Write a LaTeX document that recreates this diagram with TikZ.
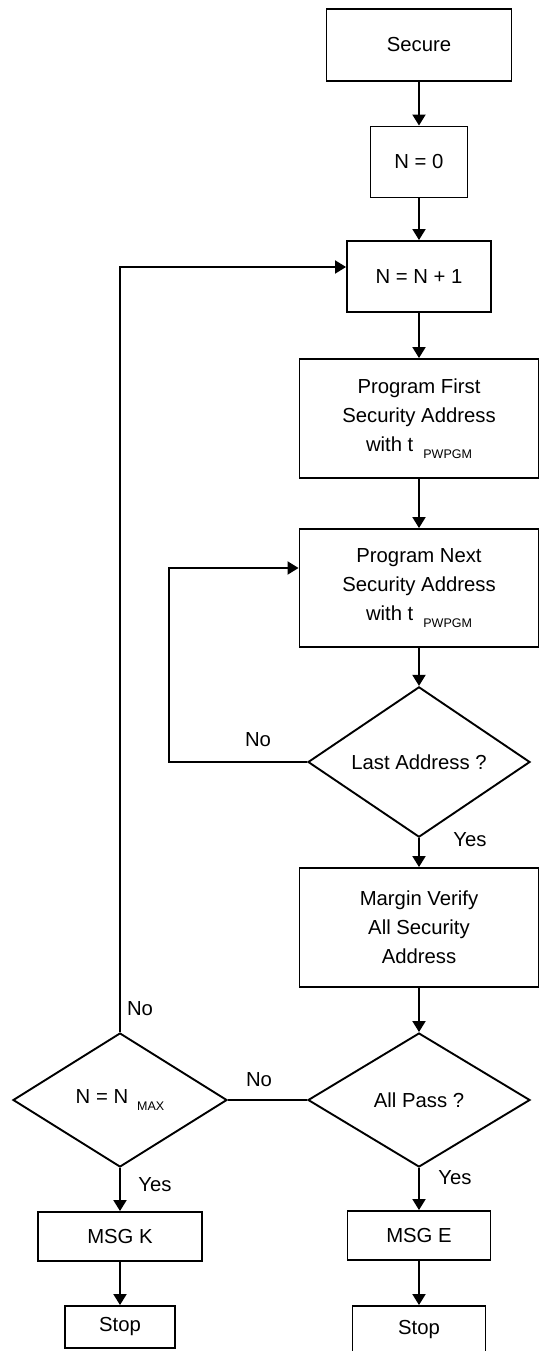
\documentclass[tikz,border=0pt]{standalone}
\usepackage{fontspec}
\setmainfont{Liberation Sans}
\usetikzlibrary{shapes.geometric,arrows.meta}

\newcommand{\lowtag}[1]{\raisebox{-7pt}{\fontsize{12.5}{12}\selectfont #1}}

\begin{document}
\begin{tikzpicture}
  [x=1pt,y=-1pt,line width=1.9pt,
   every node/.style={font=\fontsize{20.3}{29}\selectfont,align=center,inner sep=0pt},
   box/.style={draw,rectangle,line width=1.9pt},
   decide/.style={draw,diamond,line width=1.9pt,minimum width=222pt,minimum height=134pt},
   flow/.style={-{Triangle[width=13pt,length=11pt]}}]
\useasboundingbox (0,0) rectangle (555,1351);

\node [box,minimum width=185pt,minimum height=72pt]  (sec)    at (419,45)    {Secure};
\node [box,minimum width=97pt,minimum height=71pt]   (zero)   at (419,162)   {N = 0};
\node [box,minimum width=144pt,minimum height=71pt]  (inc)    at (419,276.5) {N = N + 1};
\node [box,minimum width=239pt,minimum height=119pt] (first)  at (419,418.5)
  {Program First\\Security Address\\with t\hspace{10pt}\lowtag{PWPGM}};
\node [box,minimum width=239pt,minimum height=118pt] (next)   at (419,588)
  {Program Next\\Security Address\\with t\hspace{10pt}\lowtag{PWPGM}};
\node [decide] (last)   at (419,762)  {Last Address ?};
\node [box,minimum width=239pt,minimum height=119pt] (verify) at (419,927.5)
  {Margin Verify\\All Security\\Address};
\node [decide] (pass)   at (419,1100) {All Pass ?};
\node [decide,minimum width=214pt] (nmax) at (120,1100) {N = N\hspace{9pt}\lowtag{MAX}};
\node [box,minimum width=164pt,minimum height=49pt]  (msgk)   at (120,1236.5) {MSG K};
\node [box,minimum width=110pt,minimum height=42pt]  (stopk)  at (120,1327)   {Stop};
\node [box,minimum width=143pt,minimum height=49pt]  (msge)   at (419,1235.5) {MSG E};
\node [box,minimum width=133pt,minimum height=47pt]  (stope)  at (419,1329.5) {Stop};

\node (nolast) at (258,740)  {No};
\node (yeslast) at (470,840) {Yes};
\node (noleft) at (140,1009) {No};
\node (nopass) at (259,1080) {No};
\node (yesk)   at (155,1185) {Yes};
\node (yese)   at (455,1178) {Yes};

\draw [flow] (sec) -- (zero) ;
\draw [flow] (zero) -- (inc) ;
\draw [flow] (inc) -- (first) ;
\draw [flow] (first) -- (next) ;
\draw [flow] (next) -- (last) ;
\draw [flow] (last) -- (verify) ;
\draw [flow] (verify) -- (pass) ;
\draw [flow] (pass) -- (msge) ;
\draw [flow] (msge) -- (stope) ;
\draw [flow] (nmax) -- (msgk) ;
\draw [flow] (msgk) -- (stopk) ;
\draw        (pass.west) -- (nmax.east) ;

\coordinate (loop) at (169,568) ;
\draw [flow] (last.west) -| (loop) -- (loop -| next.west) ;
\draw [flow] (nmax.north) |- ([yshift=9.5pt]inc.west) ;
\end{tikzpicture}
\end{document}
